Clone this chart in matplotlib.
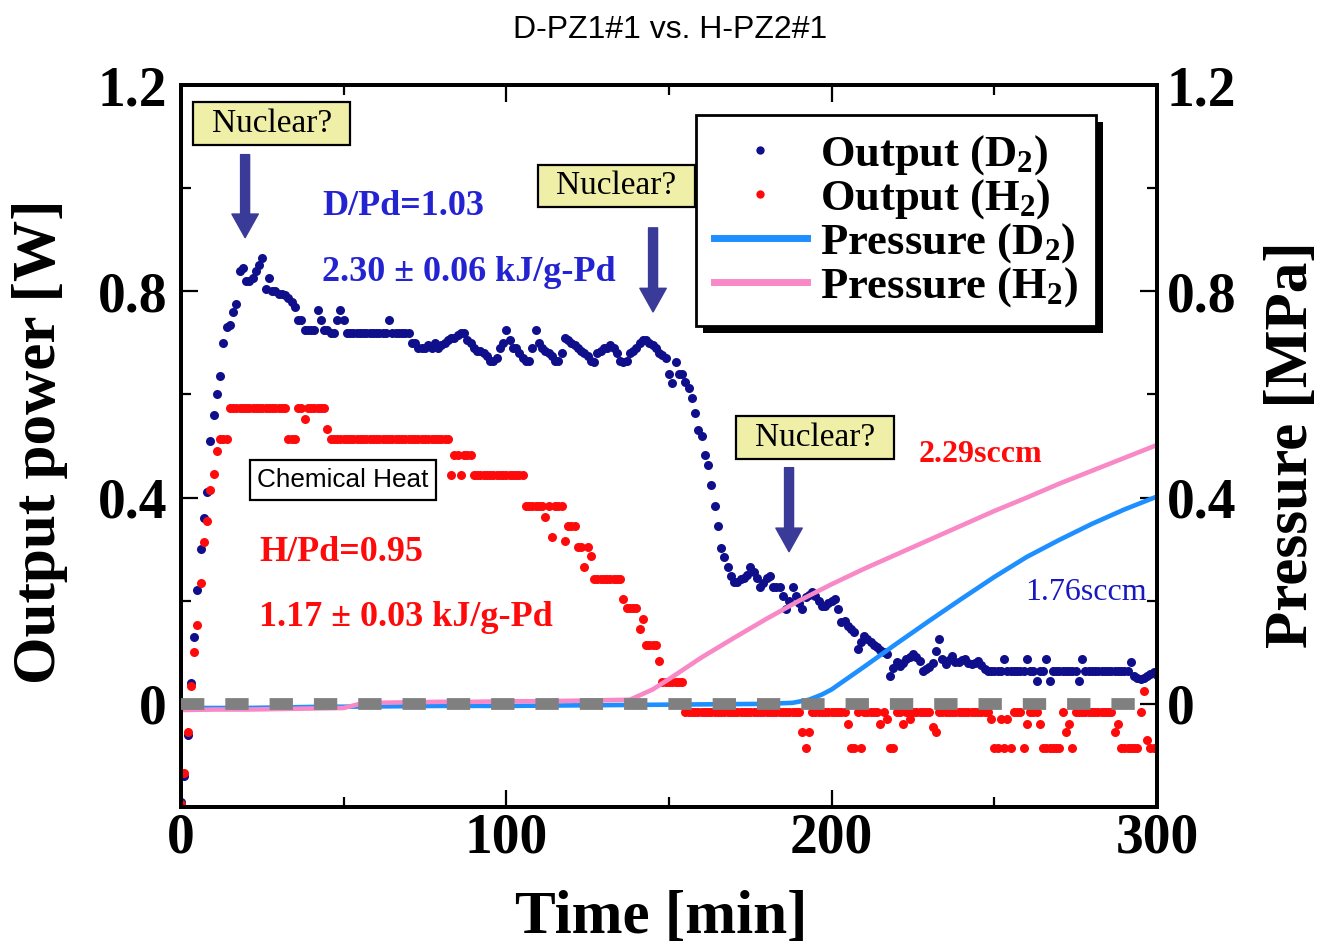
import numpy as np
import matplotlib
matplotlib.use("Agg")
import matplotlib.pyplot as plt
from matplotlib.patches import Rectangle, FancyArrowPatch, ArrowStyle
from matplotlib.lines import Line2D

plt.rcParams.update({
    "font.family": ["Liberation Serif", "DejaVu Serif"],
    "mathtext.fontset": "custom",
    "mathtext.rm": "Liberation Serif:bold",
    "mathtext.it": "Liberation Serif:italic:bold",
    "mathtext.bf": "Liberation Serif:bold",
})

# ---------------- data ----------------
# Output power, sampled once per minute from 0 to 300 min
d2_power = [
    -0.19, -0.14, -0.06, 0.04, 0.13, 0.22, 0.30, 0.36, 0.41, 0.51,
    0.56, 0.60, 0.635, 0.70, 0.73, 0.735, 0.76, 0.775, 0.84, 0.845,
    0.82, 0.82, 0.825, 0.84, 0.85, 0.865, 0.805, 0.825, 0.80, 0.80,
    0.795, 0.795, 0.792, 0.787, 0.78, 0.77, 0.745, 0.745, 0.725, 0.725,
    0.725, 0.725, 0.763, 0.744, 0.725, 0.725, 0.72, 0.72, 0.744, 0.763,
    0.744, 0.72, 0.72, 0.72, 0.72, 0.72, 0.72, 0.72, 0.72, 0.72,
    0.72, 0.72, 0.72, 0.72, 0.744, 0.72, 0.72, 0.72, 0.72, 0.72,
    0.72, 0.70, 0.70, 0.69, 0.69, 0.69, 0.695, 0.69, 0.70, 0.69,
    0.695, 0.70, 0.705, 0.71, 0.71, 0.715, 0.72, 0.72, 0.705, 0.70,
    0.69, 0.685, 0.685, 0.68, 0.675, 0.665, 0.665, 0.67, 0.69, 0.70,
    0.725, 0.705, 0.69, 0.69, 0.68, 0.67, 0.665, 0.665, 0.69, 0.725,
    0.70, 0.69, 0.685, 0.68, 0.675, 0.665, 0.665, 0.68, 0.71, 0.705,
    0.70, 0.695, 0.69, 0.685, 0.68, 0.675, 0.665, 0.663, 0.68, 0.685,
    0.69, 0.69, 0.695, 0.69, 0.68, 0.665, 0.663, 0.665, 0.68, 0.685,
    0.69, 0.70, 0.705, 0.705, 0.70, 0.695, 0.69, 0.68, 0.676, 0.67,
    0.64, 0.622, 0.663, 0.64, 0.64, 0.625, 0.612, 0.593, 0.564, 0.531,
    0.52, 0.483, 0.464, 0.425, 0.383, 0.344, 0.303, 0.284, 0.265, 0.247,
    0.236, 0.236, 0.242, 0.245, 0.25, 0.265, 0.255, 0.245, 0.226, 0.235,
    0.245, 0.247, 0.226, 0.226, 0.226, 0.21, 0.184, 0.20, 0.226, 0.209,
    0.195, 0.184, 0.207, 0.212, 0.216, 0.209, 0.20, 0.19, 0.19, 0.195,
    0.20, 0.203, 0.184, 0.158, 0.16, 0.15, 0.145, 0.14, 0.106, 0.12,
    0.131, 0.125, 0.12, 0.115, 0.11, 0.105, 0.10, 0.097, 0.054, 0.07,
    0.081, 0.073, 0.08, 0.087, 0.09, 0.097, 0.09, 0.083, 0.064, 0.068,
    0.071, 0.08, 0.102, 0.126, 0.087, 0.077, 0.085, 0.093, 0.081, 0.081,
    0.085, 0.087, 0.08, 0.077, 0.08, 0.083, 0.075, 0.068, 0.064, 0.064,
    0.064, 0.064, 0.064, 0.087, 0.064, 0.064, 0.064, 0.064, 0.064, 0.064,
    0.087, 0.064, 0.064, 0.045, 0.064, 0.064, 0.087, 0.045, 0.064, 0.064,
    0.064, 0.064, 0.064, 0.064, 0.064, 0.064, 0.045, 0.087, 0.064, 0.064,
    0.064, 0.064, 0.064, 0.064, 0.064, 0.064, 0.064, 0.064, 0.064, 0.064,
    0.064, 0.064, 0.081, 0.054, 0.05, 0.048, 0.05, 0.054, 0.058, 0.062,
    0.055,
]

h2_power = [
    -0.195, -0.135, -0.055, 0.035, 0.10, 0.153, 0.235, 0.314, 0.355, 0.414,
    0.445, 0.49, 0.514, 0.514, 0.514, 0.574, 0.574, 0.574, 0.574, 0.574,
    0.574, 0.574, 0.574, 0.574, 0.574, 0.574, 0.574, 0.574, 0.574, 0.574,
    0.574, 0.574, 0.574, 0.514, 0.514, 0.514, 0.574, 0.574, 0.553, 0.574,
    0.574, 0.574, 0.574, 0.574, 0.574, 0.533, 0.514, 0.514, 0.514, 0.514,
    0.514, 0.514, 0.514, 0.514, 0.514, 0.514, 0.514, 0.514, 0.514, 0.514,
    0.514, 0.514, 0.514, 0.514, 0.514, 0.514, 0.514, 0.514, 0.514, 0.514,
    0.514, 0.514, 0.514, 0.514, 0.514, 0.514, 0.514, 0.514, 0.514, 0.514,
    0.514, 0.514, 0.514, 0.443, 0.483, 0.483, 0.443, 0.483, 0.483, 0.483,
    0.443, 0.443, 0.443, 0.443, 0.443, 0.443, 0.443, 0.443, 0.443, 0.443,
    0.443, 0.443, 0.443, 0.443, 0.443, 0.443, 0.383, 0.383, 0.383, 0.383,
    0.383, 0.383, 0.363, 0.383, 0.324, 0.383, 0.383, 0.383, 0.315, 0.344,
    0.344, 0.344, 0.305, 0.305, 0.265, 0.305, 0.286, 0.243, 0.243, 0.243,
    0.243, 0.243, 0.243, 0.243, 0.243, 0.243, 0.203, 0.186, 0.186, 0.186,
    0.186, 0.145, 0.164, 0.114, 0.114, 0.114, 0.114, 0.083, 0.043, 0.043,
    0.043, 0.043, 0.043, 0.043, 0.043, -0.016, -0.016, -0.016, -0.016, -0.016,
    -0.016, -0.016, -0.016, -0.016, -0.016, -0.016, -0.016, -0.016, -0.016, -0.016,
    -0.016, -0.016, -0.016, -0.016, -0.016, -0.016, -0.016, -0.016, -0.016, -0.016,
    -0.016, -0.016, -0.016, -0.016, -0.016, -0.016, -0.016, -0.016, -0.016, -0.016,
    -0.016, -0.054, -0.085, -0.054, -0.016, -0.016, -0.016, -0.016, -0.016, -0.016,
    -0.016, -0.016, -0.016, -0.016, -0.016, -0.04, -0.085, -0.085, -0.016, -0.085,
    -0.016, -0.016, -0.016, -0.016, -0.016, -0.04, -0.016, -0.03, -0.085, -0.085,
    -0.016, -0.016, -0.04, -0.016, -0.03, -0.016, -0.016, -0.016, -0.016, -0.016,
    -0.016, -0.045, -0.054, -0.016, -0.016, -0.016, -0.016, -0.016, -0.016, -0.016,
    -0.016, -0.016, -0.016, -0.016, -0.016, -0.016, -0.016, -0.016, -0.016, -0.03,
    -0.085, -0.085, -0.03, -0.085, -0.03, -0.085, -0.016, -0.016, -0.016, -0.085,
    -0.04, -0.016, -0.016, -0.016, -0.04, -0.085, -0.085, -0.085, -0.085, -0.085,
    -0.085, -0.016, -0.054, -0.04, -0.085, -0.016, -0.016, -0.016, -0.016, -0.016,
    -0.016, -0.016, -0.016, -0.016, -0.016, -0.016, -0.016, -0.054, -0.04, -0.085,
    -0.085, -0.085, -0.085, -0.085, -0.085, -0.016, 0.025, -0.07, -0.085, -0.085,
    -0.085,
]
sample_time = np.arange(len(d2_power))  # one reading per minute

# Pressure (right axis, MPa)
p_h2_time = [0, 10, 20, 30, 40, 50, 55, 60, 70, 80, 90, 100, 110, 120, 130, 138,
             145, 150, 160, 170, 180, 190, 200, 210, 220, 230, 240, 250, 260,
             270, 280, 290, 300]
p_h2 = [-0.012, -0.011, -0.011, -0.01, -0.009, -0.008, 0.0, 0.002, 0.003, 0.004,
        0.004, 0.005, 0.005, 0.006, 0.007, 0.008, 0.028, 0.048, 0.09, 0.128,
        0.165, 0.2, 0.232, 0.262, 0.29, 0.318, 0.346, 0.374, 0.40, 0.427,
        0.452, 0.477, 0.502]
p_d2_time = [0, 20, 40, 60, 80, 100, 120, 140, 160, 180, 188, 193, 197, 200, 205,
             210, 220, 230, 240, 250, 260, 270, 280, 290, 300]
p_d2 = [-0.008, -0.008, -0.006, -0.005, -0.004, -0.004, -0.003, -0.002, -0.001,
        0.0, 0.002, 0.008, 0.018, 0.028, 0.05, 0.072, 0.117, 0.161, 0.204, 0.246,
        0.285, 0.318, 0.349, 0.377, 0.402]

zero_line_time = [0, 294]
zero_line_val = [0, 0]

x_major = [0, 100, 200, 300]
x_minor = [50, 150, 250]
y_major = [0, 0.4, 0.8, 1.2]
y_labels = ["0", "0.4", "0.8", "1.2"]
y_minor = [0.2, 0.6, 1.0]

legend_labels = ["Output (D$_2$)", "Output (H$_2$)", "Pressure (D$_2$)", "Pressure (H$_2$)"]

NAVY = "#0f0f8c"
RED = "#ff0a0a"
LBLUE = "#1e8fff"
PINK = "#f889c6"
ARROW = "#3a3a98"
BOXY = "#efefa8"

# ---------------- figure ----------------
W, H = 1326, 947
fig = plt.figure(figsize=(W / 100, H / 100), dpi=100)
ax = fig.add_axes([181 / W, 1 - 807 / H, 976 / W, 722 / H])

ax.plot(sample_time, d2_power, ls="none", marker="o", ms=6.5, color=NAVY, mec="none", zorder=2)
ax.plot(sample_time, h2_power, ls="none", marker="o", ms=6.5, color=RED, mec="none", zorder=3)

ax.set_xlim(0, 300)
ax.set_ylim(-0.2, 1.2)
ax.set_xticks(x_major)
ax.set_xticks(x_minor, minor=True)
ax.set_yticks(y_major)
ax.set_yticklabels(y_labels)
ax.set_yticks(y_minor, minor=True)

ax2 = ax.twinx()
ax2.set_ylim(-0.2, 1.2)
ax2.set_yticks(y_major)
ax2.set_yticklabels(y_labels)
ax2.set_yticks(y_minor, minor=True)

for a in (ax, ax2):
    for sp in a.spines.values():
        sp.set_linewidth(2.8)
ax.tick_params(which="both", direction="in", top=True, right=False, width=1.6, labelsize=40)
ax.tick_params(which="major", length=12)
ax.tick_params(which="minor", length=7)
ax.tick_params(axis="x", pad=4)
ax.tick_params(axis="y", pad=10)
ax2.tick_params(which="both", direction="in", left=False, right=True, width=1.6, labelsize=40, pad=7)
ax2.tick_params(which="major", length=12)
ax2.tick_params(which="minor", length=7)
for lbl in ax.get_xticklabels() + ax.get_yticklabels() + ax2.get_yticklabels():
    lbl.set_fontweight("bold")

# pressure lines and zero line (right axis)
ax2.plot(p_d2_time, p_d2, color=LBLUE, lw=3.3, zorder=2)
ax2.plot(p_h2_time, p_h2, color=PINK, lw=3.3, zorder=2)
ax2.plot(zero_line_time, zero_line_val, color="#808080", lw=8.5,
         dashes=(16.8 / 8.5, 15.1 / 8.5), zorder=3)

# annotation boxes
def box_text(x0, x1, y0, y1, text, fc, fontsize, family, weight="normal"):
    ax2.add_patch(Rectangle((x0, y0), x1 - x0, y1 - y0, facecolor=fc,
                            edgecolor="black", lw=1.6, zorder=4))
    ax2.text((x0 + x1) / 2, (y0 + y1) / 2, text, ha="center", va="center",
             fontsize=fontsize, family=family, fontweight=weight, zorder=5)

box_text(3.7, 52.0, 1.084, 1.167, "Nuclear?", BOXY, 24, "Liberation Serif")
box_text(109.7, 158.0, 0.964, 1.045, "Nuclear?", BOXY, 24, "Liberation Serif")
box_text(170.6, 219.2, 0.475, 0.558, "Nuclear?", BOXY, 24, "Liberation Serif")
box_text(21.2, 78.4, 0.396, 0.473, "Chemical Heat", "white", 18.8, "Liberation Sans")

def down_arrow(x, ytop, ybot):
    arr = FancyArrowPatch((x, ytop), (x, ybot),
                          arrowstyle=ArrowStyle.Simple(head_length=17, head_width=19, tail_width=6.5),
                          mutation_scale=1, color=ARROW, shrinkA=0, shrinkB=0, zorder=5)
    ax2.add_patch(arr)

down_arrow(19.7, 1.065, 0.904)
down_arrow(145.1, 0.923, 0.760)
down_arrow(186.9, 0.458, 0.295)

tb = dict(fontsize=26, fontweight="bold", va="center", ha="left", zorder=5)
ax2.text(43.3, 0.964, "D/Pd=1.03", color="#2323d2", **tb)
ax2.text(43.3, 0.836, "2.30 ± 0.06 kJ/g-Pd", color="#2323d2", **tb)
ax2.text(24.0, 0.293, "H/Pd=0.95", color=RED, **tb)
ax2.text(24.0, 0.167, "1.17 ± 0.03 kJ/g-Pd", color=RED, **tb)
ax2.text(226.6, 0.483, "2.29sccm", color=RED, fontsize=23, fontweight="bold",
         va="center", ha="left", zorder=5)
ax2.text(259.5, 0.215, "1.76sccm", color="#1818c0", fontsize=23,
         va="center", ha="left", zorder=5)

# legend
handles = [
    Line2D([], [], ls="none", marker="o", ms=6, color=NAVY, mec="none"),
    Line2D([], [], ls="none", marker="o", ms=6, color=RED, mec="none"),
    Line2D([], [], color=LBLUE, lw=5),
    Line2D([], [], color=PINK, lw=5),
]
leg = ax2.legend(handles, legend_labels, loc="upper left",
                 bbox_to_anchor=((696 - 181) / 976, (807 - 115) / 722),
                 borderaxespad=0, frameon=True, fancybox=False,
                 prop={"family": "Liberation Serif", "weight": "bold", "size": 32},
                 handlelength=2.1, handletextpad=0.3, labelspacing=0.0,
                 borderpad=0.4)
leg.get_frame().set_edgecolor("black")
leg.get_frame().set_linewidth(2)
leg.get_frame().set_alpha(1)
leg.set_zorder(10)

# axis labels and title
fig.text(40 / W, 1 - 442 / H, "Output power [W]", rotation=90, ha="center", va="center",
         fontsize=44, fontweight="bold")
fig.text(1292 / W, 1 - 445 / H, "Pressure [MPa]", rotation=90, ha="center", va="center",
         fontsize=44, fontweight="bold")
fig.text(661 / W, 1 - 933 / H, "Time [min]", ha="center", va="baseline",
         fontsize=44, fontweight="bold")
fig.text(670 / W, 1 - 30 / H, "D-PZ1#1 vs. H-PZ2#1", ha="center", va="center",
         fontsize=23, family="Liberation Sans")

# legend shadow
fig.canvas.draw()
bb = leg.get_frame().get_window_extent()
shadow = Rectangle((bb.x0 + 7, bb.y0 - 7), bb.width, bb.height, transform=None,
                   facecolor="black", edgecolor="none", zorder=9, clip_on=False)
ax2.add_artist(shadow)

fig.savefig("out.png", dpi=100)
